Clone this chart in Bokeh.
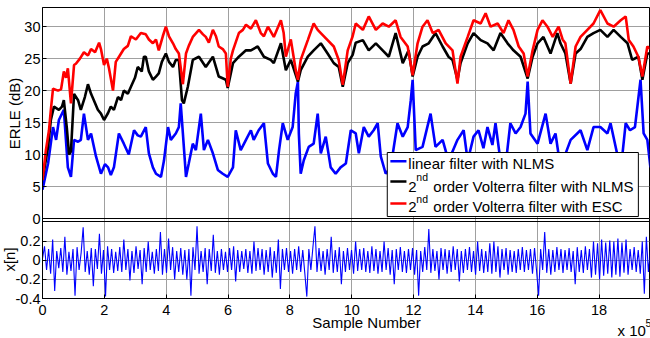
import math
import numpy as np
from bokeh.plotting import figure
from bokeh.models import Range1d, FixedTicker, Label, BoxAnnotation, GridBox
from bokeh.embed import file_html
from bokeh.resources import INLINE

# ---------------- data (x in units of 1e5 samples) ----------------
x_lin = [0.00, 0.18, 0.34, 0.44, 0.53, 0.69, 0.82, 0.92, 1.02, 1.15, 1.24, 1.34, 1.47, 1.57, 1.73, 1.89,
         2.02, 2.12, 2.21, 2.31, 2.47, 2.63, 2.79, 2.96, 3.08, 3.18, 3.34, 3.44, 3.57, 3.67, 3.83, 3.93,
         4.06, 4.15, 4.31, 4.41, 4.47, 4.54, 4.64, 4.73, 4.86, 4.96, 5.12, 5.22, 5.35, 5.51, 5.67, 5.83,
         5.99, 6.16, 6.25, 6.41, 6.58, 6.74, 6.83, 6.99, 7.16, 7.29, 7.45, 7.55, 7.65, 7.77, 7.93, 8.09,
         8.19, 8.26, 8.29, 8.35, 8.45, 8.61, 8.77, 8.90, 9.00, 9.16, 9.32, 9.48, 9.64, 9.81, 9.97, 10.13,
         10.23, 10.39, 10.55, 10.71, 10.84, 10.94, 11.10, 11.26, 11.48, 11.65, 11.81, 11.91, 11.97, 12.07,
         12.29, 12.55, 12.71, 12.94, 13.13, 13.42, 13.62, 13.75, 13.94, 14.10, 14.26, 14.39, 14.55, 14.65,
         14.81, 14.97, 15.13, 15.30, 15.46, 15.62, 15.69, 15.78, 16.01, 16.27, 16.43, 16.59, 16.75, 17.08,
         17.40, 17.62, 17.82, 18.04, 18.27, 18.37, 18.70, 18.86, 19.00, 19.16, 19.34, 19.44, 19.56, 19.66]
erle_lin = [4.5, 8.6, 14.3, 12.3, 15.4, 17.0, 8.0, 6.5, 12.3, 12.0, 12.3, 16.4, 12.3, 13.3, 9.7, 7.0,
            8.5, 8.0, 6.8, 8.0, 13.3, 11.7, 10.0, 13.8, 13.0, 12.8, 14.3, 10.2, 8.0, 7.0, 6.5, 9.1,
            14.3, 12.3, 13.3, 14.3, 18.0, 13.3, 6.5, 8.6, 11.7, 10.7, 16.4, 10.7, 12.3, 10.2, 7.6, 7.0,
            6.5, 8.0, 13.8, 10.7, 12.3, 13.8, 12.3, 13.8, 14.9, 8.6, 7.0, 6.5, 10.7, 14.9, 12.3, 14.3,
            19.6, 21.4, 13.3, 7.0, 9.1, 11.2, 11.7, 16.4, 10.2, 12.8, 8.0, 7.0, 8.0, 8.6, 13.8, 13.3,
            10.2, 14.3, 12.8, 13.8, 14.9, 9.7, 7.0, 8.0, 14.9, 12.8, 14.3, 18.5, 21.7, 10.7,
            11.2, 16.4, 11.2, 12.3, 9.0, 12.3, 13.8, 9.0, 12.8, 13.8, 11.0, 14.3, 11.5, 14.9,
            9.0, 8.0, 14.9, 13.3, 14.3, 16.4, 21.4, 13.3, 11.7, 16.4, 11.7, 13.3, 8.0, 12.3,
            13.8, 10.7, 14.3, 14.3, 13.3, 14.9, 7.5, 14.9, 13.8, 14.3, 21.7, 13.3, 12.3, 8.0]

x_nlms2 = [0.00, 0.18, 0.27, 0.37, 0.53, 0.63, 0.69, 0.79, 0.86, 0.92, 1.02, 1.15, 1.24, 1.37, 1.47, 1.57,
           1.66, 1.79, 1.89, 1.99, 2.12, 2.21, 2.31, 2.44, 2.54, 2.63, 2.76, 2.86, 2.99, 3.08, 3.21, 3.28,
           3.34, 3.44, 3.57, 3.67, 3.76, 3.86, 3.99, 4.09, 4.22, 4.31, 4.41, 4.51, 4.57, 4.70, 4.86, 5.06,
           5.28, 5.51, 5.70, 5.93, 5.99, 6.16, 6.35, 6.58, 6.74, 6.96, 7.16, 7.38, 7.48, 7.71, 7.87, 8.03,
           8.26, 8.35, 8.58, 8.77, 9.00, 9.22, 9.42, 9.58, 9.71, 9.87, 10.03, 10.13, 10.36, 10.55, 10.78,
           11.00, 11.20, 11.42, 11.65, 11.84, 11.97, 12.13, 12.29, 12.49, 12.71, 12.94, 13.13, 13.26, 13.42,
           13.52, 13.75, 13.94, 14.17, 14.39, 14.59, 14.81, 15.04, 15.23, 15.46, 15.69, 15.85, 16.01, 16.20,
           16.43, 16.65, 16.75, 16.91, 17.08, 17.24, 17.40, 17.62, 17.82, 18.04, 18.27, 18.47, 18.70, 18.92,
           19.07, 19.27, 19.40, 19.56, 19.66]
erle_nlms2 = [6.0, 11.2, 15.4, 17.5, 17.0, 17.5, 18.5, 14.0, 10.0, 10.5, 19.5, 18.5, 17.0, 19.0, 21.0, 19.5,
              18.5, 17.0, 16.4, 15.4, 16.5, 17.5, 17.0, 19.0, 18.5, 20.0, 19.5, 20.6, 22.0, 23.7, 23.0, 25.3,
              25.3, 23.0, 21.7, 22.2, 22.7, 24.5, 25.8, 24.5, 23.7, 24.8, 24.8, 18.5, 18.0, 20.6, 24.8, 25.3,
              23.7, 25.3, 22.2, 21.7, 20.4, 24.3, 25.3, 26.3, 26.3, 26.9, 25.3, 24.8, 24.3, 27.4, 23.2, 24.8,
              21.4, 23.2, 25.3, 26.3, 27.4, 25.8, 24.3, 23.7, 20.6, 24.3, 25.6, 27.5, 27.9, 26.3, 27.4,
              26.3, 25.3, 29.0, 24.3, 26.3, 22.2, 25.3, 26.9, 27.4, 29.0, 26.9, 25.3, 24.8, 21.7,
              24.3, 27.4, 29.0, 27.9, 27.4, 26.3, 29.0, 27.4, 26.3, 25.3, 21.9, 25.3, 27.4, 28.4,
              25.8, 29.0, 27.4, 25.8, 21.1, 25.8, 26.5, 28.4, 29.0, 29.5, 28.4, 29.5, 28.4, 27.4,
              24.8, 25.3, 21.7, 25.8, 25.8]

x_esc2 = [0.00, 0.11, 0.21, 0.27, 0.34, 0.50, 0.60, 0.69, 0.76, 0.82, 0.92, 1.02, 1.08, 1.21, 1.34, 1.47,
          1.57, 1.70, 1.83, 1.89, 1.99, 2.08, 2.15, 2.28, 2.37, 2.50, 2.63, 2.76, 2.86, 3.02, 3.18, 3.34,
          3.44, 3.57, 3.67, 3.76, 3.89, 3.99, 4.09, 4.22, 4.31, 4.41, 4.54, 4.64, 4.73, 4.86, 5.06, 5.19,
          5.28, 5.38, 5.51, 5.61, 5.70, 5.83, 5.93, 5.99, 6.09, 6.16, 6.35, 6.48, 6.58, 6.74, 6.90, 7.06,
          7.16, 7.29, 7.48, 7.71, 7.80, 7.87, 8.03, 8.19, 8.26, 8.35, 8.58, 8.77, 8.90, 9.00, 9.22, 9.42,
          9.58, 9.71, 9.87, 10.03, 10.13, 10.36, 10.55, 10.78, 11.00, 11.20, 11.42, 11.58, 11.81, 11.97,
          12.13, 12.29, 12.45, 12.62, 12.81, 13.04, 13.26, 13.42, 13.52, 13.75, 13.94, 14.17, 14.33, 14.49,
          14.72, 14.91, 15.07, 15.23, 15.40, 15.56, 15.69, 15.85, 16.01, 16.17, 16.33, 16.50, 16.69, 16.82,
          16.91, 17.08, 17.24, 17.40, 17.62, 17.82, 18.04, 18.27, 18.47, 18.70, 18.86, 18.96, 19.11, 19.27,
          19.40, 19.56, 19.66]
erle_esc2 = [6.0, 10.7, 13.8, 17.0, 20.3, 20.0, 20.2, 23.0, 22.0, 23.5, 18.0, 24.0, 24.2, 25.0, 26.0, 25.5,
             26.5, 26.0, 27.5, 26.5, 24.0, 25.0, 23.5, 20.0, 24.5, 25.5, 26.5, 27.0, 28.5, 28.0, 29.0, 28.8,
             28.0, 27.4, 28.0, 26.3, 28.5, 30.0, 28.5, 27.4, 26.5, 25.8, 21.0, 25.8, 27.0, 28.4, 29.5, 28.8,
             28.4, 27.5, 29.5, 28.5, 26.9, 26.5, 25.8, 20.6, 25.0, 26.3, 29.0, 29.5, 30.3, 29.7, 31.0, 29.0,
             28.5, 30.0, 28.4, 31.0, 29.0, 25.3, 28.0, 23.2, 21.7, 24.8, 27.9, 30.5, 29.5, 29.0, 27.9, 26.9,
             24.8, 20.9, 26.3, 28.5, 30.5, 29.5, 31.6, 29.5, 30.5, 30.0, 31.0, 28.4, 26.9, 22.4,
             27.4, 30.0, 31.0, 29.0, 29.5, 27.4, 26.3, 21.1, 25.3, 28.4, 31.0, 30.5, 32.1, 30.0,
             30.5, 29.0, 31.0, 29.5, 26.9, 25.8, 22.2, 26.3, 29.5, 31.0, 30.0, 28.4, 30.0, 28.0,
             27.4, 21.1, 26.9, 28.4, 29.5, 30.5, 32.6, 30.5, 30.0, 31.0, 31.6, 27.9, 26.9, 25.3,
             22.2, 26.9, 26.5]

# excitation signal x[n] (left to right)
xn_vals = [0.02, 0.15, -0.1, 0.12, -0.14, 0.22, -0.32, 0.1, -0.08, 0.13, -0.12, 0.25, -0.15, 0.09, -0.11, 0.12, -0.37, 0.14, -0.1, 0.08,
           0.35, -0.12, 0.1, -0.15, 0.13, -0.27, 0.12, -0.09, 0.28, -0.14, 0.11, -0.38, 0.15, -0.1, 0.12, -0.13, 0.09, -0.11, 0.14, -0.12,
           0.22, -0.1, 0.12, -0.21, 0.1, -0.13, 0.15, -0.09, 0.11, -0.25, 0.13, -0.12, 0.2, -0.1, 0.09, -0.14, 0.12, -0.11, 0.3, -0.15,
           0.12, -0.13, 0.23, -0.1, 0.14, -0.2, 0.1, -0.12, 0.13, -0.15, 0.11, -0.2, 0.12, -0.37, 0.14, -0.1, 0.36, -0.14, 0.1, -0.12,
           0.13, -0.25, 0.12, -0.11, 0.27, -0.13, 0.1, -0.15, 0.12, -0.1, 0.09, -0.12, 0.13, -0.1, 0.15, -0.22, 0.11, -0.12, 0.1, -0.09,
           0.12, -0.13, 0.1, -0.14, 0.2, -0.11, 0.13, -0.1, 0.12, -0.15, 0.11, -0.12, 0.14, -0.18, 0.1, -0.13, 0.22, -0.3, 0.12, -0.1,
           0.13, -0.12, 0.1, -0.14, 0.12, -0.1, 0.15, -0.12, 0.11, -0.13, -0.38, 0.12, -0.1, 0.14, 0.36, -0.12, 0.13, -0.11, 0.1, -0.15,
           0.12, -0.1, 0.25, -0.13, 0.11, -0.12, 0.14, -0.25, 0.1, -0.12, 0.13, -0.1, 0.11, -0.14, 0.2, -0.11, 0.12, -0.1, 0.13, -0.12,
           0.1, -0.13, 0.15, -0.11, 0.12, -0.14, 0.1, -0.12, 0.2, -0.1, 0.13, -0.15, 0.11, -0.25, 0.12, -0.1, 0.14, -0.12, 0.1, -0.13,
           0.12, -0.1, 0.13, -0.15, 0.11, -0.37, 0.1, -0.12, 0.14, -0.1, 0.33, -0.13, 0.12, -0.11, 0.1, -0.2, 0.13, -0.1, 0.12, -0.14,
           0.11, -0.12, 0.15, -0.1, 0.12, -0.22, 0.1, -0.13, 0.12, -0.1, 0.14, -0.12, 0.1, -0.15, 0.2, -0.11, 0.12, -0.13, 0.1, -0.12,
           0.18, -0.14, 0.2, -0.12, 0.15, -0.18, 0.12, -0.1, 0.13, -0.15, 0.11, -0.12, 0.1, -0.13, 0.12, -0.1, 0.14, -0.12, 0.11, -0.1,
           0.12, -0.14, 0.13, -0.11, -0.37, 0.12, -0.1, 0.3, -0.13, 0.12, -0.15, 0.11, -0.12, 0.14, -0.1, 0.12, -0.13, 0.11, -0.1, 0.13,
           -0.12, 0.1, -0.25, 0.14, -0.12, 0.11, -0.13, 0.15, -0.1, 0.12, -0.18, 0.2, -0.15, 0.18, -0.2, 0.22, -0.16, 0.19, -0.14, 0.21,
           -0.18, 0.2, -0.15, 0.23, -0.17, 0.19, -0.13, 0.22, -0.15, 0.12, -0.1, 0.14, -0.12, 0.11, -0.14, 0.2, -0.35, 0.25, -0.12, 0.1]
XN_SPAN = 19.66  # position of the last x[n] sample (x 1e5)

x_ticks = [0, 2, 4, 6, 8, 10, 12, 14, 16, 18]
erle_ticks = [0, 5, 10, 15, 20, 25, 30]
xn_ticks = [-0.4, -0.2, 0, 0.2]
xn_tick_labels = ["-0.4", "-0.2", "0", "0.2"]
legend_pre = ["", "2", "2"]
legend_sup = ["", "nd", "nd"]
legend_main = ["linear filter with NLMS", "order Volterra filter with NLMS", "order Volterra filter with ESC"]
legend_colors = ["#0000ff", "#000000", "#ff0000"]
axis_titles = ["ERLE (dB)", "x[n]", "Sample Number", "x 10", "5"]

FONT = "Liberation Sans"
GRID = "#a0a0a0"

# ---------------- layout constants (pixels) ----------------
W, H = 650, 338
LEFT, RIGHT, TOP = 42, 1, 7
P1, GAP, P2 = 211, 3, 77          # upper panel, gap, lower panel heights
BOTTOM = H - TOP - (P1 + GAP + P2)
ERLE_MAX = 33.0
XN_LO, XN_HI = -0.4, 0.41
X_END = 19.63

main_per_px = ERLE_MAX / P1
y_start = -(GAP + P2) * main_per_px
xn_per_px = (XN_HI - XN_LO) / P2
xn_end = XN_HI + (GAP + P1) * xn_per_px

def xn_to_main(v):
    return y_start + (v - XN_LO) / xn_per_px * main_per_px

def no_frame_align(fig):
    try:
        fig.frame_align = False
    except Exception:
        pass

p = figure(width=W, height=H, output_backend="svg", toolbar_location=None,
           x_range=Range1d(0, X_END), y_range=Range1d(y_start, ERLE_MAX),
           min_border_left=LEFT, min_border_right=RIGHT, min_border_top=TOP, min_border_bottom=BOTTOM)
no_frame_align(p)
p.extra_y_ranges = {"xn": Range1d(XN_LO, xn_end)}
p.background_fill_color = "white"
p.border_fill_color = "white"
p.outline_line_color = "black"
p.outline_line_width = 1

yt = list(erle_ticks) + [xn_to_main(v) for v in xn_ticks]
ylabels = {t: str(t) for t in erle_ticks}
for v, s in zip(xn_ticks, xn_tick_labels):
    ylabels[xn_to_main(v)] = s
p.yaxis.ticker = FixedTicker(ticks=yt)
p.yaxis.major_label_overrides = ylabels
p.xaxis.ticker = FixedTicker(ticks=x_ticks)
for ax in p.axis:
    ax.axis_line_color = "black"
    ax.major_tick_line_color = "black"
    ax.major_tick_in = 4
    ax.major_tick_out = 0
    ax.minor_tick_in = 0
    ax.minor_tick_out = 0
    ax.major_label_text_font = FONT
    ax.major_label_text_font_size = "14.5px"
    ax.major_label_text_color = "black"
p.yaxis.major_label_standoff = 2
p.xaxis.major_label_standoff = 6
p.xgrid.grid_line_color = GRID
p.ygrid.grid_line_color = GRID

# upper panel curves
p.line(x_lin, erle_lin, line_color="#0000ff", line_width=2.6)
p.line(x_nlms2, erle_nlms2, line_color="#000000", line_width=2.6)
p.line(x_esc2, erle_esc2, line_color="#ff0000", line_width=2.6)

# lower panel signal
x_n = np.linspace(0, XN_SPAN, len(xn_vals))
p.line(x_n, xn_vals, line_color="#0000ff", line_width=1.1, y_range_name="xn")

# borders of the two panels
p.hspan(y=[0], line_color="black", line_width=1)
p.hspan(y=[XN_HI], line_color="black", line_width=1, y_range_name="xn")

# legend (manual, for superscripts)
p.add_layout(BoxAnnotation(left=11.15, right=19.27, bottom=0.31, top=10.32, fill_color="white",
                           fill_alpha=1.0, line_color="black", line_width=1, line_alpha=1.0))
row_text_y = [8.68, 5.00, 1.80]
row_line_y = [8.96, 5.79, 2.35]
row_sup_y = [None, 6.49, 3.05]
for i in range(3):
    p.add_layout(BoxAnnotation(left=11.25, right=11.77, bottom=row_line_y[i] - 0.2, top=row_line_y[i] + 0.2,
                               fill_color=legend_colors[i], fill_alpha=1.0, line_alpha=0))
    if legend_pre[i]:
        p.add_layout(Label(x=11.83, y=row_text_y[i], text=legend_pre[i], text_font=FONT, text_font_size="15px",
                           text_align="left", text_baseline="middle", text_color="black"))
        p.add_layout(Label(x=12.09, y=row_sup_y[i], text=legend_sup[i], text_font=FONT, text_font_size="10.5px",
                           text_align="left", text_baseline="middle", text_color="black"))
        p.add_layout(Label(x=12.64, y=row_text_y[i], text=legend_main[i], text_font=FONT, text_font_size="15px",
                           text_align="left", text_baseline="middle", text_color="black"))
    else:
        p.add_layout(Label(x=11.83, y=row_text_y[i], text=legend_main[i], text_font=FONT, text_font_size="15px",
                           text_align="left", text_baseline="middle", text_color="black"))

# transparent overlay (same grid cell) carrying the axis titles, in canvas pixels
ov = figure(width=W, height=H, output_backend="svg", toolbar_location=None,
            x_axis_type=None, y_axis_type=None,
            x_range=Range1d(0, W), y_range=Range1d(H, 0),
            min_border_left=0, min_border_right=0, min_border_top=0, min_border_bottom=0)
no_frame_align(ov)
ov.outline_line_color = None
ov.background_fill_alpha = 0
ov.border_fill_alpha = 0

title_pos = [(13.5, 113), (8.5, 259), (366, 322), (617, 329.5), (645, 322)]
title_size = ["15px", "15px", "15px", "15px", "10.5px"]
title_align = ["center", "center", "center", "left", "left"]
title_angle = [math.pi / 2, math.pi / 2, 0.0, 0.0, 0.0]
for txt, (tx, ty), sz, al, an in zip(axis_titles, title_pos, title_size, title_align, title_angle):
    ov.add_layout(Label(x=tx, y=ty, text=txt, text_font=FONT, text_font_size=sz, text_align=al,
                        text_baseline="middle", angle=an, text_color="black"))

grid = GridBox(children=[(p, 0, 0), (ov, 0, 0)])
open("out.html", "w").write(file_html(grid, INLINE))
